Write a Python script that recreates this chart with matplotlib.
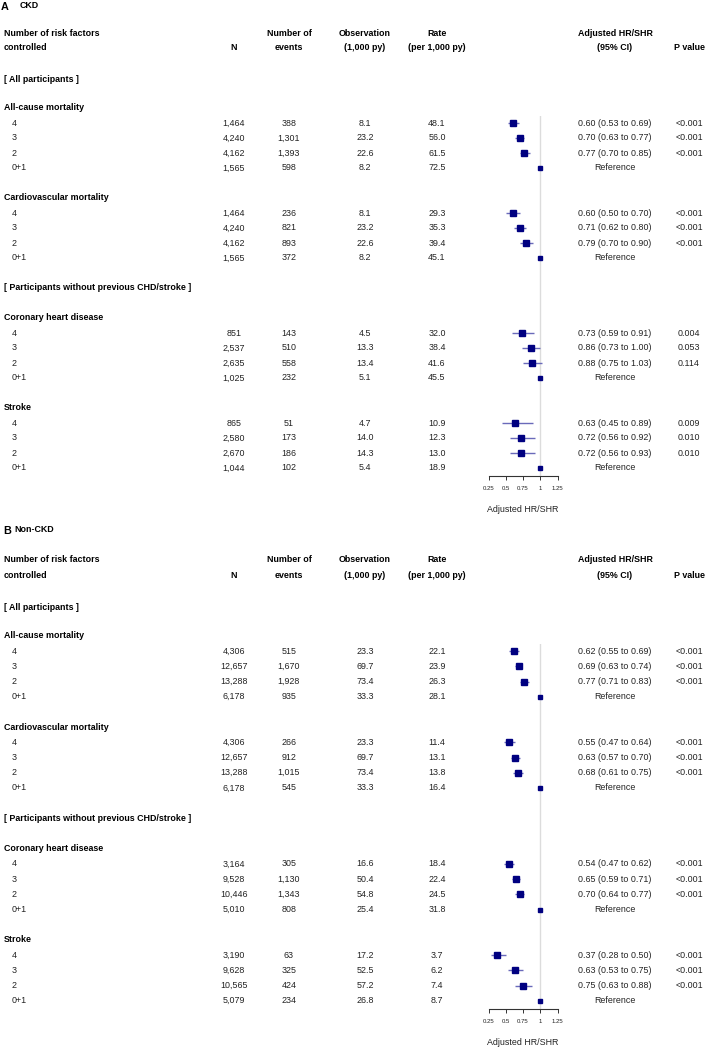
import matplotlib
matplotlib.use("Agg")
import matplotlib.pyplot as plt

plt.rcParams["font.family"] = ["Liberation Sans", "DejaVu Sans"]

outcomes = ["All-cause mortality", "Cardiovascular mortality",
            "Coronary heart disease", "Stroke"]
groups = ["4", "3", "2", "0+1"]

# panel A: CKD
ckd_n = [[1464, 4240, 4162, 1565], [1464, 4240, 4162, 1565],
         [851, 2537, 2635, 1025], [865, 2580, 2670, 1044]]
ckd_events = [[388, 1301, 1393, 598], [236, 821, 893, 372],
              [143, 510, 558, 232], [51, 173, 186, 102]]
ckd_obs = [[8.1, 23.2, 22.6, 8.2], [8.1, 23.2, 22.6, 8.2],
           [4.5, 13.3, 13.4, 5.1], [4.7, 14.0, 14.3, 5.4]]
ckd_rate = [[48.1, 56.0, 61.5, 72.5], [29.3, 35.3, 39.4, 45.1],
            [32.0, 38.4, 41.6, 45.5], [10.9, 12.3, 13.0, 18.9]]
ckd_hr = [[0.60, 0.70, 0.77, 1.0], [0.60, 0.71, 0.79, 1.0],
          [0.73, 0.86, 0.88, 1.0], [0.63, 0.72, 0.72, 1.0]]
ckd_lo = [[0.53, 0.63, 0.70], [0.50, 0.62, 0.70],
          [0.59, 0.73, 0.75], [0.45, 0.56, 0.56]]
ckd_hi = [[0.69, 0.77, 0.85], [0.70, 0.80, 0.90],
          [0.91, 1.00, 1.03], [0.89, 0.92, 0.93]]
ckd_p = [["<0.001", "<0.001", "<0.001"], ["<0.001", "<0.001", "<0.001"],
         ["0.004", "0.053", "0.114"], ["0.009", "0.010", "0.010"]]

# panel B: Non-CKD
nonckd_n = [[4306, 12657, 13288, 6178], [4306, 12657, 13288, 6178],
            [3164, 9528, 10446, 5010], [3190, 9628, 10565, 5079]]
nonckd_events = [[515, 1670, 1928, 935], [266, 912, 1015, 545],
                 [305, 1130, 1343, 808], [63, 325, 424, 234]]
nonckd_obs = [[23.3, 69.7, 73.4, 33.3], [23.3, 69.7, 73.4, 33.3],
              [16.6, 50.4, 54.8, 25.4], [17.2, 52.5, 57.2, 26.8]]
nonckd_rate = [[22.1, 23.9, 26.3, 28.1], [11.4, 13.1, 13.8, 16.4],
               [18.4, 22.4, 24.5, 31.8], [3.7, 6.2, 7.4, 8.7]]
nonckd_hr = [[0.62, 0.69, 0.77, 1.0], [0.55, 0.63, 0.68, 1.0],
             [0.54, 0.65, 0.70, 1.0], [0.37, 0.63, 0.75, 1.0]]
nonckd_lo = [[0.55, 0.63, 0.71], [0.47, 0.57, 0.61],
             [0.47, 0.59, 0.64], [0.28, 0.53, 0.63]]
nonckd_hi = [[0.69, 0.74, 0.83], [0.64, 0.70, 0.75],
             [0.62, 0.71, 0.77], [0.50, 0.75, 0.88]]
nonckd_p = [["<0.001"] * 3] * 4

hr_ticks = [0.25, 0.5, 0.75, 1, 1.25]
hr_tick_labels = ["0.25", "0.5", "0.75", "1", "1.25"]

W, H = 708, 1050
FS = 6.4
TXT = "#222222"
NAVY = "#000080"
CI_COL = "#6a6aba"

fig = plt.figure(figsize=(W / 100, H / 100), dpi=100)
bg = fig.add_axes([0, 0, 1, 1])
bg.set_xlim(0, W)
bg.set_ylim(H, 0)
bg.axis("off")

X_LAB, X_GRP, X_N, X_EV, X_OBS, X_RATE, X_HR, X_P = 4, 12, 234, 289, 365, 437, 615, 689
PX_PER_UNIT = 69.0
X_HR0 = 488.5 - 0.25 * PX_PER_UNIT  # pixel of HR = 0


def txt(x, y, s, ha="left", bold=False, size=FS, va="center"):
    bg.text(x, y, s, ha=ha, va=va, fontsize=size,
            fontweight="bold" if bold else "normal",
            color="black" if bold else TXT)


def panel(letter, title, x_letter, x_title, y_letter, y_title, top, step,
          n, ev, obs, rate, hr, lo, hi, p):
    slot = lambda k: top + k * step
    txt(x_letter, y_letter, letter, bold=True, size=7.8, va="baseline")
    txt(x_title, y_title, title, bold=True, size=6.4, va="baseline")

    txt(X_LAB, slot(0), "Number of risk factors", bold=True)
    txt(X_LAB, slot(1), "controlled", bold=True)
    txt(X_N, slot(1), "N", ha="center", bold=True)
    txt(X_EV, slot(0), "Number of", ha="center", bold=True)
    txt(X_EV, slot(1), "events", ha="center", bold=True)
    txt(X_OBS, slot(0), "Observation", ha="center", bold=True)
    txt(X_OBS, slot(1), "(1,000 py)", ha="center", bold=True)
    txt(X_RATE, slot(0), "Rate", ha="center", bold=True)
    txt(X_RATE, slot(1), "(per 1,000 py)", ha="center", bold=True)
    txt(X_HR, slot(0), "Adjusted HR/SHR", ha="center", bold=True)
    txt(X_HR, slot(1), "(95% CI)", ha="center", bold=True)
    txt(X_P, slot(1), "P value", ha="center", bold=True)

    txt(X_LAB, slot(3) + 1.5, "[ All participants ]", bold=True)
    txt(X_LAB, slot(17), "[ Participants without previous CHD/stroke ]", bold=True)

    axis_y = slot(29) + 8
    ax_top = slot(5.5)
    ax = fig.add_axes([X_HR0 / W, 1 - axis_y / H,
                       1.5 * PX_PER_UNIT / W, (axis_y - ax_top) / H])
    ax.set_xlim(0, 1.5)
    ax.set_ylim(axis_y, ax_top)
    ax.patch.set_alpha(0)
    for side in ["top", "right", "left"]:
        ax.spines[side].set_visible(False)
    ax.spines["bottom"].set_bounds(0.25, 1.25)
    ax.spines["bottom"].set_color("#333333")
    ax.spines["bottom"].set_linewidth(0.8)
    ax.set_yticks([])
    ax.set_xticks(hr_ticks)
    ax.set_xticklabels(hr_tick_labels, fontsize=4.3, color=TXT)
    ax.tick_params(axis="x", length=2.6, width=0.7, color="#333333", pad=4.5)
    ax.set_xlabel("Adjusted HR/SHR", fontsize=FS, color=TXT, labelpad=10)
    ax.axvline(1, color="#dcdcdc", lw=1.0, zorder=0)

    starts = [5, 11, 19, 25]
    for k, name in enumerate(outcomes):
        s0 = starts[k]
        txt(X_LAB, slot(s0), name, bold=True)
        for j, g in enumerate(groups):
            y = slot(s0 + 1 + j)
            txt(X_GRP, y, g)
            txt(X_N, y, f"{n[k][j]:,}", ha="center")
            txt(X_EV, y, f"{ev[k][j]:,}", ha="center")
            txt(X_OBS, y, f"{obs[k][j]:.1f}", ha="center")
            txt(X_RATE, y, f"{rate[k][j]:.1f}", ha="center")
            if j < 3:
                txt(X_HR, y, f"{hr[k][j]:.2f} ({lo[k][j]:.2f} to {hi[k][j]:.2f})", ha="center")
                txt(X_P, y, p[k][j], ha="center")
                ax.plot([lo[k][j], hi[k][j]], [y, y], color=CI_COL, lw=1.0,
                        solid_capstyle="butt", zorder=2)
                ax.plot(hr[k][j], y, marker="s", ms=3.9, color=NAVY, zorder=3)
            else:
                txt(X_HR, y, "Reference", ha="center")
                ax.plot(hr[k][j], y, marker="s", ms=3.3, color=NAVY, zorder=3)


panel("A", "CKD", 1, 20, 9.5, 8.0, 33, 15.0,
      ckd_n, ckd_events, ckd_obs, ckd_rate, ckd_hr, ckd_lo, ckd_hi, ckd_p)
panel("B", "Non-CKD", 3, 14, 533.5, 532.5, 560, 15.2,
      nonckd_n, nonckd_events, nonckd_obs, nonckd_rate, nonckd_hr,
      nonckd_lo, nonckd_hi, nonckd_p)

fig.savefig("out.png", dpi=100)
